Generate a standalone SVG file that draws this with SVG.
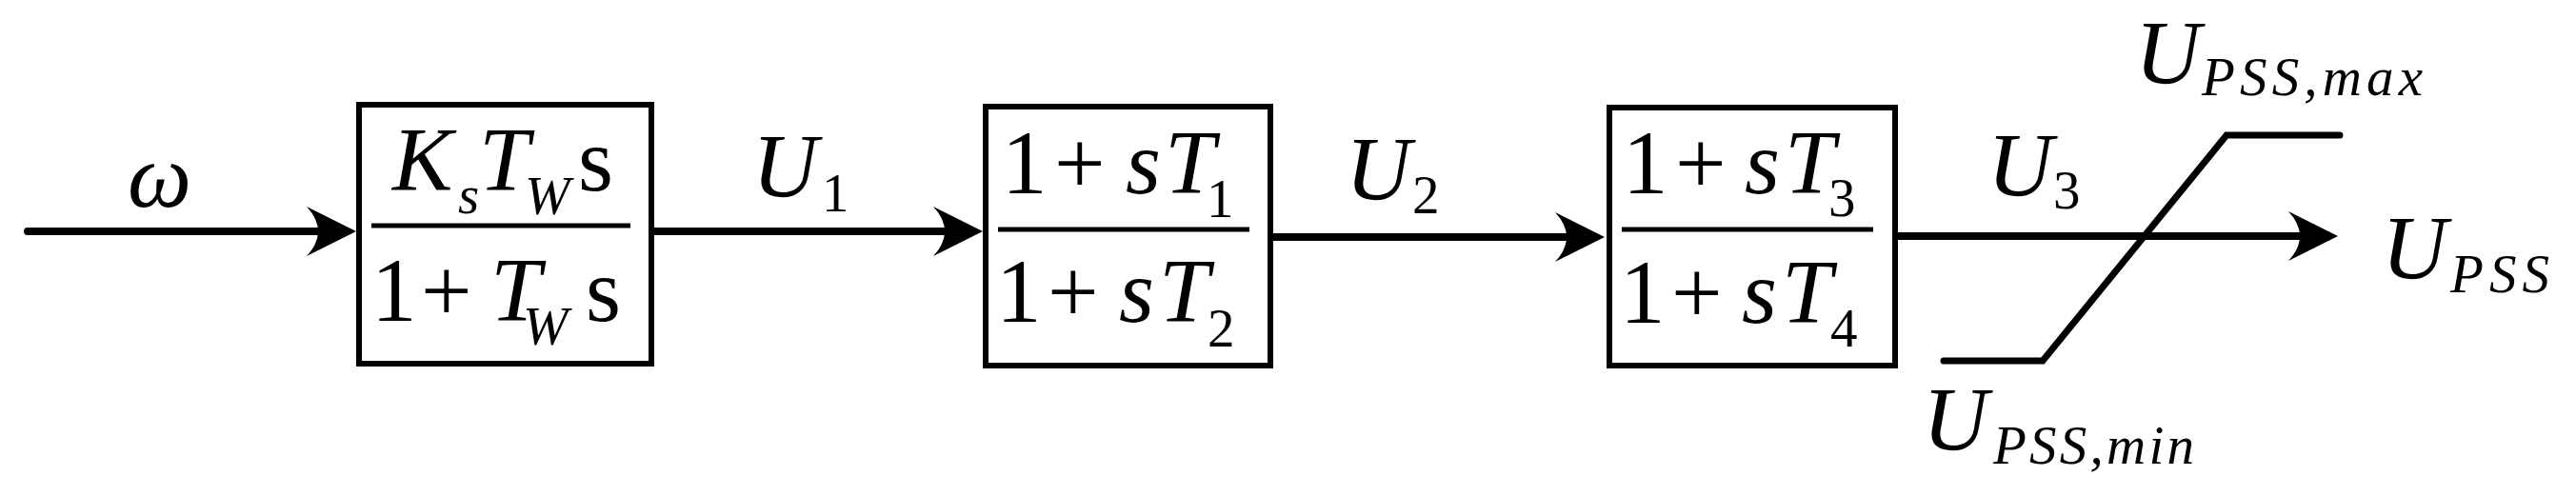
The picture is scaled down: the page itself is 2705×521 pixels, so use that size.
<svg xmlns="http://www.w3.org/2000/svg" width="2705" height="521" viewBox="0 0 2705 521">
<defs>
<marker id="arr" markerUnits="userSpaceOnUse" viewBox="0 0 52 52" markerWidth="52" markerHeight="52" refX="22" refY="26" orient="auto">
<path d="M0,0 L52,26 L0,52 Q24,26 0,0 Z" fill="#000"/>
</marker>
</defs>
<rect width="2705" height="521" fill="#fff"/>
<g id="connectors" fill="none" stroke="#000" stroke-width="8" stroke-linecap="round">
<path d="M29,243 H344" marker-end="url(#arr)"/>
<path d="M687,243 H1002" marker-end="url(#arr)"/>
<path d="M1337,249 H1655" marker-end="url(#arr)"/>
<path d="M1993,248 H2425" marker-end="url(#arr)"/>
</g>
<g id="diagram" font-family="Liberation Serif" font-size="95" fill="#000">
<g id="label-omega"><text x="134" y="217" font-style="italic">ω</text></g>
<g id="block1">
<rect x="377" y="110" width="307" height="272" fill="none" stroke="#000" stroke-width="6"/>
<line x1="390" y1="237" x2="662" y2="237" stroke="#000" stroke-width="5"/>
<text x="412" y="200" font-style="italic">K</text>
<text x="481" y="224" font-size="57" font-style="italic">s</text>
<text x="503" y="200" font-style="italic">T</text>
<text x="551" y="225" font-size="57" font-style="italic">W</text>
<text x="607" y="200">s</text>
<text x="390" y="337">1</text>
<text x="442" y="337">+</text>
<text x="515" y="337" font-style="italic">T</text>
<text x="549" y="362" font-size="57" font-style="italic">W</text>
<text x="615" y="337">s</text>
</g>
<g id="label-u1"><text x="790" y="207" font-style="italic">U</text><text x="863" y="222" font-size="57">1</text></g>
<g id="block2">
<rect x="1035" y="112" width="299" height="272" fill="none" stroke="#000" stroke-width="6"/>
<line x1="1048" y1="241" x2="1312" y2="241" stroke="#000" stroke-width="5"/>
<text x="1052" y="203">1</text>
<text x="1107" y="203">+</text>
<text x="1182" y="203" font-style="italic">s</text>
<text x="1223" y="203" font-style="italic">T</text>
<text x="1267" y="228" font-size="57">1</text>
<text x="1046" y="338">1</text>
<text x="1100" y="338">+</text>
<text x="1175" y="338" font-style="italic">s</text>
<text x="1217" y="338" font-style="italic">T</text>
<text x="1268" y="364" font-size="57">2</text>
</g>
<g id="label-u2"><text x="1413" y="210" font-style="italic">U</text><text x="1483" y="224" font-size="57">2</text></g>
<g id="block3">
<rect x="1690" y="113" width="300" height="271" fill="none" stroke="#000" stroke-width="6"/>
<line x1="1703" y1="241" x2="1967" y2="241" stroke="#000" stroke-width="5"/>
<text x="1704" y="203">1</text>
<text x="1759" y="203">+</text>
<text x="1832" y="203" font-style="italic">s</text>
<text x="1874" y="203" font-style="italic">T</text>
<text x="1920" y="227" font-size="57">3</text>
<text x="1701" y="339">1</text>
<text x="1755" y="339">+</text>
<text x="1829" y="339" font-style="italic">s</text>
<text x="1871" y="339" font-style="italic">T</text>
<text x="1922" y="364" font-size="57">4</text>
</g>
<g id="label-u3"><text x="2087" y="206" font-style="italic">U</text><text x="2156" y="219" font-size="57">3</text></g>
<g id="limiter">
<polyline points="2041,379 2145,379 2338,142 2457,142" fill="none" stroke="#000" stroke-width="7" stroke-linecap="round"/>
</g>
<g id="label-max"><text x="2242" y="88" font-style="italic">U</text><text x="2312" y="100" font-size="57" font-style="italic" textLength="232" lengthAdjust="spacing">PSS,max</text></g>
<g id="label-out"><text x="2501" y="293" font-style="italic">U</text><text x="2573" y="307" font-size="57" font-style="italic" textLength="104" lengthAdjust="spacing">PSS</text></g>
<g id="label-min"><text x="2019" y="473" font-style="italic">U</text><text x="2093" y="487" font-size="57" font-style="italic" textLength="211" lengthAdjust="spacing">PSS,min</text></g>
</g>
</svg>
